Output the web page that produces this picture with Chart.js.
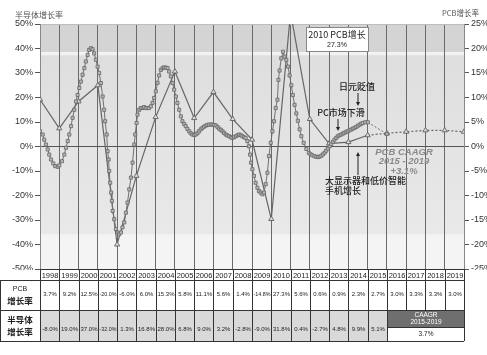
<!DOCTYPE html>
<html>
<head>
<meta charset="utf-8">
<script src="https://cdn.jsdelivr.net/npm/chart.js@4.4.0/dist/chart.umd.min.js"></script>
<style>
  html, body { margin: 0; padding: 0; background: #fff; }
  #wrap { position: relative; width: 487px; height: 355px; }
</style>
</head>
<body>
<div id="wrap"><canvas id="myChart"></canvas></div>
<script>
// Années du tableau
const years = [1998, 1999, 2000, 2001, 2002, 2003, 2004, 2005, 2006, 2007, 2008,
               2009, 2010, 2011, 2012, 2013, 2014, 2015, 2016, 2017, 2018, 2019];
// Croissance PCB par année (ligne du tableau)
const pcbGrowth = [3.7, 9.2, 12.5, -20.0, -6.0, 6.0, 15.3, 5.8, 11.1, 5.6, 1.4,
                   -14.8, 27.3, 5.6, 0.6, 0.9, 2.3, 2.7, 3.0, 3.3, 3.3, 3.0];
// Croissance semi-conducteurs par année (ligne du tableau)
const semiGrowth = [-8.0, 19.0, 37.0, -32.0, 1.3, 16.8, 28.0, 6.8, 9.0, 3.2, -2.8,
                    -9.0, 31.8, 0.4, -2.7, 4.8, 9.9, 5.1];
const semiCaagr = '3.7%';

// Points triangles PCB (placés en fin d'année), 1997 -> 2019
const pcbPointX = [1998, 1999, 2000, 2001, 2002, 2003, 2004, 2005, 2006, 2007, 2008, 2009,
                   2010, 2011, 2012, 2013, 2014, 2015, 2016, 2017, 2018, 2019, 2020];
const pcbPointY = [9.6, 3.7, 9.2, 12.5, -20.0, -6.0, 6.0, 15.3, 5.8, 11.1, 5.6, 1.4,
                   -14.8, 27.3, 5.6, 0.6, 0.9, 2.3, 2.7, 3.0, 3.3, 3.3, 3.0];

// Courbe mensuelle semi-conducteurs
const semiX = [1998.00, 1998.14, 1998.22, 1998.31, 1998.40, 1998.48, 1998.57, 1998.69, 1998.79, 1998.92,
  1999.00, 1999.14, 1999.26, 1999.35, 1999.44, 1999.52, 1999.61, 1999.69, 1999.78, 1999.87, 1999.95,
  2000.04, 2000.12, 2000.21, 2000.30, 2000.38, 2000.47, 2000.55, 2000.64, 2000.73, 2000.81, 2000.90, 2000.99,
  2001.07, 2001.16, 2001.25, 2001.33, 2001.38, 2001.46, 2001.51, 2001.56, 2001.59, 2001.64, 2001.69, 2001.73, 2001.77, 2001.85, 2001.94,
  2002.03, 2002.11, 2002.20, 2002.28, 2002.37, 2002.46, 2002.54, 2002.63, 2002.72, 2002.80, 2002.89, 2002.94,
  2003.01, 2003.06, 2003.15, 2003.23, 2003.32, 2003.40, 2003.49, 2003.58, 2003.66, 2003.75, 2003.84, 2003.92,
  2004.01, 2004.10, 2004.18, 2004.27, 2004.36, 2004.44, 2004.53, 2004.62, 2004.70, 2004.79, 2004.88, 2004.96,
  2005.05, 2005.13, 2005.22, 2005.31, 2005.39, 2005.48, 2005.56, 2005.65, 2005.74, 2005.82, 2005.91,
  2006.00, 2006.08, 2006.17, 2006.25, 2006.34, 2006.43, 2006.51, 2006.60, 2006.68, 2006.77, 2006.86, 2006.95,
  2007.03, 2007.12, 2007.21, 2007.29, 2007.38, 2007.47, 2007.55, 2007.64, 2007.72, 2007.81, 2007.90, 2007.98,
  2008.07, 2008.16, 2008.25, 2008.33, 2008.42, 2008.50, 2008.59, 2008.67, 2008.76, 2008.84, 2008.90, 2008.95,
  2009.02, 2009.10, 2009.19, 2009.28, 2009.36, 2009.45, 2009.54, 2009.62, 2009.71, 2009.80, 2009.88, 2009.97,
  2010.06, 2010.14, 2010.23, 2010.32, 2010.37, 2010.43, 2010.52, 2010.61, 2010.69, 2010.78, 2010.87, 2010.95,
  2011.04, 2011.12, 2011.21, 2011.30, 2011.38, 2011.47, 2011.56, 2011.68, 2011.82, 2011.95,
  2012.04, 2012.13, 2012.24, 2012.34, 2012.43, 2012.51, 2012.60, 2012.68, 2012.77, 2012.85, 2012.94,
  2013.03, 2013.11, 2013.20, 2013.28, 2013.37, 2013.45, 2013.54, 2013.63, 2013.72, 2013.80, 2013.89, 2013.97,
  2014.06, 2014.15, 2014.23, 2014.32, 2014.41, 2014.50, 2014.58, 2014.67, 2014.75, 2014.88, 2015.01];
const semiY = [6.2, 4.9, 2.8, 0.8, -1.2, -3.3, -5.3, -6.9, -8.0, -8.3,
  -7.7, -6.0, -3.3, -0.5, 2.2, 4.9, 8.3, 11.7, 15.0, 18.4, 21.0,
  23.9, 26.5, 29.3, 32.0, 34.7, 37.4, 39.4, 40.1, 39.7, 38.0, 35.4, 32.6,
  30.0, 25.9, 20.4, 15.0, 10.3, 4.9, -1.9, -5.3, -10.0, -14.8, -18.8, -22.2, -26.3, -29.7, -33.7,
  -35.1, -35.8, -35.1, -33.0, -31.0, -27.0, -22.9, -17.5, -12.7, -6.6, 0.8, 4.9,
  9.6, 13.0, 15.0, 15.7, 15.7, 16.1, 15.7, 15.7, 15.7, 16.4, 17.8, 19.8,
  22.5, 26.0, 29.0, 31.3, 32.0, 32.3, 32.2, 32.0, 30.6, 28.6, 25.9, 23.2,
  20.4, 17.8, 15.0, 12.3, 10.3, 9.2, 8.3, 7.2, 6.2, 5.4, 4.9,
  4.7, 4.9, 5.4, 6.2, 7.0, 7.6, 8.1, 8.5, 8.8, 8.9, 9.0, 8.9,
  8.8, 8.6, 8.0, 7.3, 6.8, 6.2, 5.5, 4.9, 4.5, 4.2, 3.8, 3.5,
  3.8, 4.2, 4.6, 4.9, 4.6, 4.2, 3.8, 3.5, 2.2, 0.1, -3.3, -6.6,
  -9.3, -12.0, -14.8, -16.8, -18.2, -18.8, -19.5, -18.8, -15.4, -10.7, -3.9, 1.5,
  6.2, 10.3, 15.7, 19.1, 27.2, 31.0, 36.0, 38.7, 36.7, 35.4, 32.6, 29.0,
  25.0, 21.0, 17.0, 13.5, 10.5, 7.0, 4.2, 1.5, -1.0, -2.6,
  -3.2, -3.6, -4.0, -4.2, -4.3, -4.1, -3.8, -3.2, -2.5, -1.7, -0.8,
  0.1, 1.0, 1.9, 2.8, 3.5, 4.2, 4.6, 4.9, 5.3, 5.6, 6.0, 6.2,
  6.6, 6.9, 7.3, 7.6, 8.0, 8.5, 8.9, 9.3, 9.6, 9.9, 9.9];
// Raccord pointillé vers la valeur 2015
const semiTailX = [2015.01, 2016];
const semiTailY = [9.9, 5.1];

Chart.defaults.font.family = "'Liberation Sans', Arial, sans-serif";
Chart.defaults.color = '#333';

const CJK = "'Noto Sans CJK SC', sans-serif";

const bgPlugin = {
    id: 'bands',
    beforeDraw(chart) {
        const ctx = chart.ctx;
        const a = chart.chartArea;
        const y = chart.scales.y;
        const w = a.right - a.left;
        const yBand = y.getPixelForValue(38.5);
        const yLow = y.getPixelForValue(-36);
        ctx.save();
        ctx.fillStyle = '#d4d4d4';
        ctx.fillRect(a.left, a.top, w, yBand - a.top);
        ctx.fillStyle = '#f2f2f2';
        ctx.fillRect(a.left, yBand, w, 3);
        const g = ctx.createLinearGradient(0, yBand + 3, 0, yLow);
        g.addColorStop(0, '#dedede');
        g.addColorStop(1, '#e9e9e9');
        ctx.fillStyle = g;
        ctx.fillRect(a.left, yBand + 3, w, yLow - yBand - 3);
        ctx.fillStyle = '#f4f4f4';
        ctx.fillRect(a.left, yLow, w, a.bottom - yLow);
        ctx.restore();
    }
};

function fitText(ctx, text, cx, cy, maxW) {
    const w = ctx.measureText(text).width;
    ctx.save();
    ctx.translate(cx, cy);
    if (w > maxW) ctx.scale(maxW / w, 1);
    ctx.fillText(text, 0, 0);
    ctx.restore();
}

function arrow(ctx, x, y1, y2) {
    const dir = y2 > y1 ? 1 : -1;
    ctx.beginPath();
    ctx.moveTo(x, y1);
    ctx.lineTo(x, y2 - dir * 3);
    ctx.stroke();
    ctx.beginPath();
    ctx.moveTo(x, y2);
    ctx.lineTo(x - 2, y2 - dir * 4);
    ctx.lineTo(x + 2, y2 - dir * 4);
    ctx.closePath();
    ctx.fill();
}

const notesPlugin = {
    id: 'notes',
    afterDraw(chart) {
        const ctx = chart.ctx;
        ctx.save();
        // titres des axes
        ctx.fillStyle = '#555';
        ctx.textBaseline = 'middle';
        ctx.textAlign = 'left';
        ctx.font = '8px ' + CJK;
        ctx.fillText('半导体增长率', 15, 15);
        ctx.font = '7.5px ' + CJK;
        ctx.fillText('PCB增长率', 442, 13);

        // encadré 2010
        ctx.fillStyle = '#fff';
        ctx.fillRect(306, 27, 62, 24);
        ctx.strokeStyle = '#888';
        ctx.lineWidth = 1;
        ctx.strokeRect(306.5, 27.5, 62, 24);
        ctx.fillStyle = '#222';
        ctx.textAlign = 'center';
        ctx.font = '9px ' + CJK;
        ctx.fillText('2010 PCB增长', 337, 35);
        ctx.font = '7px Liberation Sans';
        ctx.fillText('27.3%', 337, 45);

        // annotations
        ctx.font = '500 9px ' + CJK;
        ctx.fillStyle = '#222';
        ctx.strokeStyle = '#222';
        ctx.fillText('日元贬值', 357, 87);
        arrow(ctx, 358, 93, 106);
        ctx.fillText('PC市场下滑', 341, 113);
        arrow(ctx, 338, 119, 131);
        ctx.textAlign = 'left';
        ctx.fillText('大显示器和低价智能', 325, 181);
        ctx.fillText('手机增长', 325, 191);
        arrow(ctx, 358, 175, 152);

        // CAAGR PCB
        ctx.textAlign = 'center';
        ctx.fillStyle = '#8a8a8a';
        ctx.font = 'italic bold 9.5px Liberation Sans';
        ctx.fillText('PCB CAAGR', 404, 152);
        ctx.fillText('2015 - 2019', 404, 161.5);
        ctx.fillText('+3.1%', 404, 171);
        ctx.restore();
    }
};

const tablePlugin = {
    id: 'growthTable',
    afterDraw(chart) {
        const ctx = chart.ctx;
        const xs = chart.scales.x;
        const top = Math.round(chart.chartArea.bottom);
        const rY = 280, rP = 310, rS = 341, rC = 327;
        const colX = years.map(y => Math.round(xs.getPixelForValue(y)));
        const xEnd = Math.round(xs.getPixelForValue(years[years.length - 1] + 1));
        const xAct = colX[semiGrowth.length];
        const bounds = colX.concat([xEnd]);

        ctx.save();
        ctx.fillStyle = '#fff';
        ctx.fillRect(0, top + 1, 487, rS - top);
        ctx.fillStyle = '#d9d9d9';
        ctx.fillRect(colX[0], rP, xAct - colX[0], rS - rP);
        ctx.fillStyle = '#6f6f6f';
        ctx.fillRect(xAct, rP, xEnd - xAct, rC - rP);

        ctx.strokeStyle = '#333';
        ctx.lineWidth = 1;
        ctx.beginPath();
        ctx.moveTo(colX[0], top + 0.5); ctx.lineTo(xEnd, top + 0.5);
        [rY, rP, rS].forEach(y => { ctx.moveTo(0, y + 0.5); ctx.lineTo(xEnd, y + 0.5); });
        ctx.moveTo(xAct, rC + 0.5); ctx.lineTo(xEnd, rC + 0.5);
        ctx.moveTo(0.5, rY); ctx.lineTo(0.5, rS);
        bounds.forEach((x, i) => {
            const inCaagr = x > xAct && x < xEnd;
            ctx.moveTo(x + 0.5, top);
            ctx.lineTo(x + 0.5, inCaagr ? rP : rS);
        });
        ctx.stroke();

        ctx.textAlign = 'center';
        ctx.textBaseline = 'middle';
        ctx.fillStyle = '#222';
        years.forEach((yr, i) => {
            const cx = (bounds[i] + bounds[i + 1]) / 2 + 0.5;
            const cw = bounds[i + 1] - bounds[i] - 2;
            ctx.font = '7.5px Liberation Sans';
            fitText(ctx, String(yr), cx, 275.5, cw);
            ctx.font = '6px Liberation Sans';
            fitText(ctx, pcbGrowth[i].toFixed(1) + '%', cx, 294.5, cw);
            if (i < semiGrowth.length) {
                fitText(ctx, semiGrowth[i].toFixed(1) + '%', cx, 329, cw);
            }
        });

        // cellule fusionnée CAAGR
        const cc = (xAct + xEnd) / 2 + 0.5;
        ctx.fillStyle = '#fff';
        ctx.font = '6.5px Liberation Sans';
        ctx.fillText('CAAGR', cc, 315.5);
        ctx.fillText('2015-2019', cc, 322);
        ctx.fillStyle = '#222';
        ctx.fillText(semiCaagr, cc, 334.5);

        // libellés des lignes
        ctx.font = '7px Liberation Sans';
        ctx.fillText('PCB', 20, 289);
        ctx.font = 'bold 8.5px ' + CJK;
        ctx.fillText('增长率', 20, 301);
        ctx.fillText('半导体', 20, 320);
        ctx.fillText('增长率', 20, 332);
        ctx.restore();
    }
};

const ctx = document.getElementById('myChart').getContext('2d');

const dashAfter2015 = c => c.p0.parsed.x >= 2015 ? [2, 2] : undefined;

new Chart(ctx, {
    type: 'line',
    data: {
        datasets: [{
            label: '半导体',
            data: semiX.map((x, i) => ({ x: x, y: semiY[i] })),
            yAxisID: 'y',
            borderColor: '#707070',
            borderWidth: 1,
            pointStyle: 'rect',
            pointRadius: 2.2,
            pointBackgroundColor: '#b8b8b8',
            pointBorderColor: '#666',
            pointBorderWidth: 0.8,
            tension: 0
        }, {
            label: '半导体 2015',
            data: semiTailX.map((x, i) => ({ x: x, y: semiTailY[i] })),
            yAxisID: 'y',
            borderColor: '#707070',
            borderWidth: 1,
            borderDash: [2, 2],
            pointStyle: 'rect',
            pointRadius: [0, 2.2],
            pointBackgroundColor: '#b8b8b8',
            pointBorderColor: '#666',
            pointBorderWidth: 0.8
        }, {
            label: 'PCB',
            data: pcbPointX.map((x, i) => ({ x: x, y: pcbPointY[i] })),
            yAxisID: 'y1',
            borderColor: '#666',
            borderWidth: 1.2,
            pointStyle: 'triangle',
            pointRadius: 3,
            pointBackgroundColor: '#dcdcdc',
            pointBorderColor: '#555',
            pointBorderWidth: 0.8,
            segment: { borderDash: dashAfter2015 },
            tension: 0
        }]
    },
    options: {
        responsive: true,
        maintainAspectRatio: false,
        animation: false,
        layout: { padding: { top: 24, bottom: 86, left: 0, right: 0 } },
        plugins: {
            legend: { display: false },
            tooltip: { enabled: false }
        },
        scales: {
            x: {
                type: 'linear',
                min: 1998,
                max: 2020,
                ticks: { stepSize: 1, display: false, maxTicksLimit: 40 },
                grid: { color: '#6a6a6a', lineWidth: 1, drawTicks: false },
                border: { display: false },
                afterFit: function(scale) { scale.height = 0; }
            },
            y: {
                position: 'left',
                min: -50,
                max: 50,
                ticks: {
                    stepSize: 10,
                    padding: 2,
                    font: { size: 9 },
                    color: '#333',
                    callback: function(value) { return value + '%'; }
                },
                grid: {
                    color: function(c) {
                        if (c.tick.value === 0) return '#555';
                        if (c.tick.value === 50) return '#bdbdbd';
                        return 'rgba(0,0,0,0)';
                    },
                    tickColor: '#555',
                    tickLength: 5
                },
                border: { display: true, color: '#888' },
                afterFit: function(scale) { scale.width = 40; }
            },
            y1: {
                position: 'right',
                min: -25,
                max: 25,
                ticks: {
                    stepSize: 5,
                    padding: 2,
                    font: { size: 9 },
                    color: '#333',
                    callback: function(value) { return value + '%'; }
                },
                grid: { drawOnChartArea: false, tickColor: '#555', tickLength: 5 },
                border: { display: true, color: '#888' },
                afterFit: function(scale) { scale.width = 23; }
            }
        }
    },
    plugins: [bgPlugin, notesPlugin, tablePlugin]
});
</script>
</body>
</html>
